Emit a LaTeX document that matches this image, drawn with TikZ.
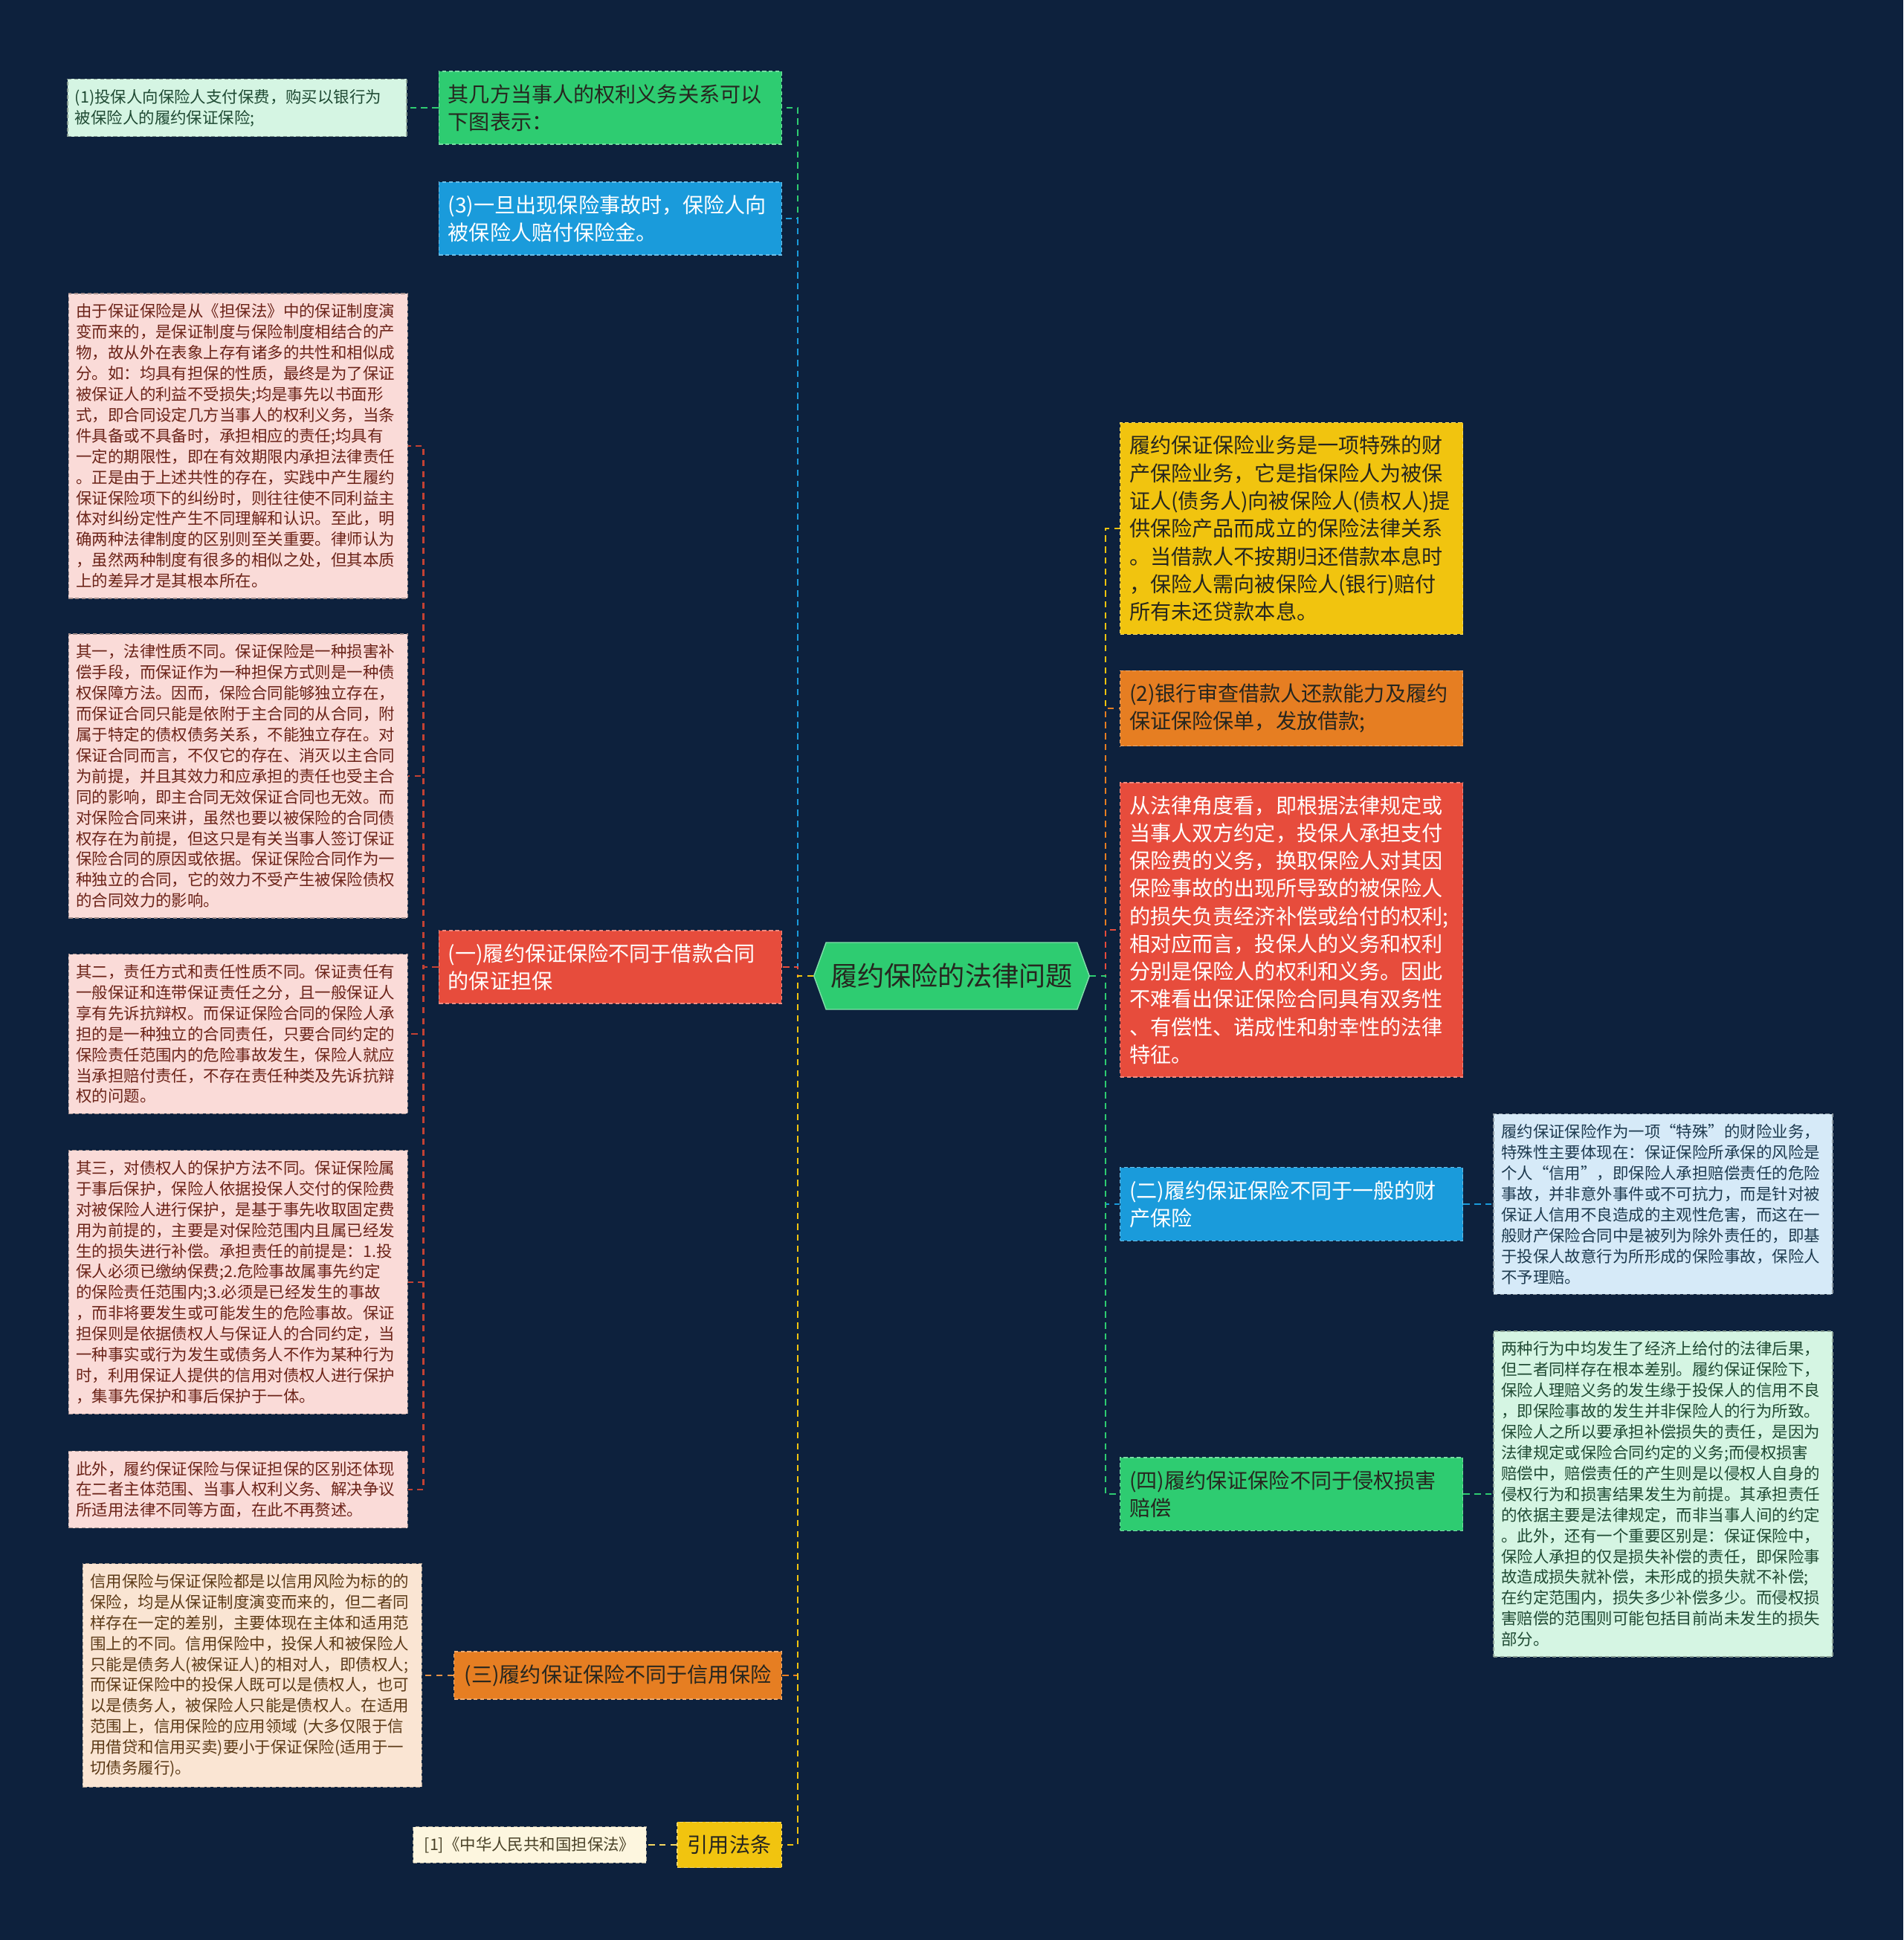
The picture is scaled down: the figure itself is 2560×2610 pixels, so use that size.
\documentclass[tikz,border=0pt]{standalone}
\usepackage{fontspec}
\setmainfont{Noto Sans CJK SC}
\usepackage{tikz}
\usetikzlibrary{positioning,calc,shapes.symbols}

\definecolor{bgnavy}{HTML}{0D213D}
\definecolor{mgreen}{HTML}{2ECC71}
\definecolor{mblue}{HTML}{1A9BDB}
\definecolor{mred}{HTML}{E74C3C}
\definecolor{morange}{HTML}{E67E22}
\definecolor{myellow}{HTML}{F1C40F}
\definecolor{lpink}{HTML}{FADBD8}
\definecolor{lpeach}{HTML}{FAE5D3}
\definecolor{lcream}{HTML}{FDF6DF}
\definecolor{lblue}{HTML}{D6EAF8}
\definecolor{lgreen}{HTML}{D5F5E3}
\definecolor{inkdark}{HTML}{26261F}
\definecolor{inkpink}{HTML}{6B2318}
\definecolor{inkpeach}{HTML}{5C3A17}
\definecolor{inkcream}{HTML}{4A4228}
\definecolor{inkgreen}{HTML}{1F4A33}
\definecolor{inkblue}{HTML}{1D3A4F}

\begin{document}
\begin{tikzpicture}[
  x=0.1mm, y=-0.1mm,
  root/.style={
    signal,
    signal to=west and east,
    signal pointer angle=140,
    fill=mgreen,
    draw=mgreen!60!white,
    line width=0.4pt,
    text=inkdark,
    inner xsep=0.6mm,
    minimum width=37mm,
    minimum height=9mm,
    font=\fontsize{10.3}{12}\selectfont
  },
  topic/.style={
    fill=#1,
    draw=#1!65!white,
    dash pattern=on 1.5pt off 1pt,
    line width=0.4pt,
    align=left,
    inner xsep=1.4mm,
    inner ysep=1.75mm,
    font=\fontsize{8.0}{10.6}\selectfont
  },
  topic/.default=mgreen,
  widetopic/.style={topic=#1, text width=43.6mm, inner xsep=1.25mm},
  note/.style={
    fill=#1,
    draw=#1!65!black,
    dash pattern=on 1.5pt off 1pt,
    line width=0.4pt,
    align=left,
    inner xsep=1.5mm,
    inner ysep=1.35mm,
    font=\fontsize{6.1}{7.95}\selectfont
  },
  widenote/.style={note=#1, text width=43.6mm, inner xsep=1mm},
  link/.style={
    draw=#1,
    dash pattern=on 2.4pt off 1.8pt,
    line width=0.7pt
  }
]
  \useasboundingbox (0,0) rectangle (2560,2610);
  \fill[bgnavy] (0,0) rectangle (2560,2610);

  \node[root] (root) at (1280,1313) {履约保险的法律问题};

  % left column of topics
  \node[widetopic=mgreen, text=inkdark, anchor=east] (parties) at (1052,145)
    {其几方当事人的权利义务关系可以\\下图表示：};
  \node[widetopic=mblue, text=white, anchor=east] (payout) at (1052,294)
    {(3)一旦出现保险事故时，保险人向\\被保险人赔付保险金。};
  \node[widetopic=mred, text=white, anchor=east] (loan) at (1052,1301)
    {(一)履约保证保险不同于借款合同\\的保证担保};
  \node[topic=morange, text=inkdark, anchor=east] (credit) at (1052,2254)
    {(三)履约保证保险不同于信用保险};
  \node[topic=myellow, text=inkdark, anchor=east] (lawref) at (1052,2482)
    {引用法条};

  % right column of topics
  \node[widetopic=myellow, text=inkdark, anchor=west] (bizdef) at (1506,711)
    {履约保证保险业务是一项特殊的财\\产保险业务，它是指保险人为被保\\证人(债务人)向被保险人(债权人)提\\供保险产品而成立的保险法律关系\\。当借款人不按期归还借款本息时\\，保险人需向被保险人(银行)赔付\\所有未还贷款本息。};
  \node[widetopic=morange, text=inkdark, anchor=west] (bankstep) at (1506,953)
    {(2)银行审查借款人还款能力及履约\\保证保险保单，发放借款;};
  \node[widetopic=mred, text=white, anchor=west] (legalview) at (1506,1251)
    {从法律角度看，即根据法律规定或\\当事人双方约定，投保人承担支付\\保险费的义务，换取保险人对其因\\保险事故的出现所导致的被保险人\\的损失负责经济补偿或给付的权利;\\相对应而言，投保人的义务和权利\\分别是保险人的权利和义务。因此\\不难看出保证保险合同具有双务性\\、有偿性、诺成性和射幸性的法律\\特征。};
  \node[widetopic=mblue, text=white, anchor=west] (property) at (1506,1620)
    {(二)履约保证保险不同于一般的财\\产保险};
  \node[widetopic=mgreen, text=inkdark, anchor=west] (tort) at (1506,2010)
    {(四)履约保证保险不同于侵权损害\\赔偿};

  % notes on the far left
  \node[widenote=lgreen, text=inkgreen, left=4.2mm of parties] (partyone)
    {(1)投保人向保险人支付保费，购买以银行为\\被保险人的履约保证保险;};
  \node[widenote=lpink, text=inkpink, anchor=east] (loanwhy) at (549,600)
    {由于保证保险是从《担保法》中的保证制度演\\变而来的，是保证制度与保险制度相结合的产\\物，故从外在表象上存有诸多的共性和相似成\\分。如：均具有担保的性质，最终是为了保证\\被保证人的利益不受损失;均是事先以书面形\\式，即合同设定几方当事人的权利义务，当条\\件具备或不具备时，承担相应的责任;均具有\\一定的期限性，即在有效期限内承担法律责任\\。正是由于上述共性的存在，实践中产生履约\\保证保险项下的纠纷时，则往往使不同利益主\\体对纠纷定性产生不同理解和认识。至此，明\\确两种法律制度的区别则至关重要。律师认为\\，虽然两种制度有很多的相似之处，但其本质\\上的差异才是其根本所在。};
  \node[widenote=lpink, text=inkpink, anchor=east] (loanone) at (549,1044)
    {其一，法律性质不同。保证保险是一种损害补\\偿手段，而保证作为一种担保方式则是一种债\\权保障方法。因而，保险合同能够独立存在，\\而保证合同只能是依附于主合同的从合同，附\\属于特定的债权债务关系，不能独立存在。对\\保证合同而言，不仅它的存在、消灭以主合同\\为前提，并且其效力和应承担的责任也受主合\\同的影响，即主合同无效保证合同也无效。而\\对保险合同来讲，虽然也要以被保险的合同债\\权存在为前提，但这只是有关当事人签订保证\\保险合同的原因或依据。保证保险合同作为一\\种独立的合同，它的效力不受产生被保险债权\\的合同效力的影响。};
  \node[widenote=lpink, text=inkpink, anchor=east] (loantwo) at (549,1391)
    {其二，责任方式和责任性质不同。保证责任有\\一般保证和连带保证责任之分，且一般保证人\\享有先诉抗辩权。而保证保险合同的保险人承\\担的是一种独立的合同责任，只要合同约定的\\保险责任范围内的危险事故发生，保险人就应\\当承担赔付责任，不存在责任种类及先诉抗辩\\权的问题。};
  \node[widenote=lpink, text=inkpink, anchor=east] (loanthree) at (549,1725)
    {其三，对债权人的保护方法不同。保证保险属\\于事后保护，保险人依据投保人交付的保险费\\对被保险人进行保护，是基于事先收取固定费\\用为前提的，主要是对保险范围内且属已经发\\生的损失进行补偿。承担责任的前提是：1.投\\保人必须已缴纳保费;2.危险事故属事先约定\\的保险责任范围内;3.必须是已经发生的事故\\，而非将要发生或可能发生的危险事故。保证\\担保则是依据债权人与保证人的合同约定，当\\一种事实或行为发生或债务人不作为某种行为\\时，利用保证人提供的信用对债权人进行保护\\，集事先保护和事后保护于一体。};
  \node[widenote=lpink, text=inkpink, anchor=east] (loanmore) at (549,2004)
    {此外，履约保证保险与保证担保的区别还体现\\在二者主体范围、当事人权利义务、解决争议\\所适用法律不同等方面，在此不再赘述。};
  \node[widenote=lpeach, text=inkpeach, left=4.2mm of credit] (creditnote)
    {信用保险与保证保险都是以信用风险为标的的\\保险，均是从保证制度演变而来的，但二者同\\样存在一定的差别，主要体现在主体和适用范\\围上的不同。信用保险中，投保人和被保险人\\只能是债务人(被保证人)的相对人，即债权人;\\而保证保险中的投保人既可以是债权人，也可\\以是债务人，被保险人只能是债权人。在适用\\范围上，信用保险的应用领域 (大多仅限于信\\用借贷和信用买卖)要小于保证保险(适用于一\\切债务履行)。};
  \node[note=lcream, text=inkcream, left=4mm of lawref] (lawnote)
    {[1]《中华人民共和国担保法》};

  % notes on the far right
  \node[widenote=lblue, text=inkblue, right=4mm of property] (propnote)
    {履约保证保险作为一项“特殊”的财险业务，\\特殊性主要体现在：保证保险所承保的风险是\\个人“信用”，即保险人承担赔偿责任的危险\\事故，并非意外事件或不可抗力，而是针对被\\保证人信用不良造成的主观性危害，而这在一\\般财产保险合同中是被列为除外责任的，即基\\于投保人故意行为所形成的保险事故，保险人\\不予理赔。};
  \node[widenote=lgreen, text=inkgreen, right=4mm of tort] (tortnote)
    {两种行为中均发生了经济上给付的法律后果，\\但二者同样存在根本差别。履约保证保险下，\\保险人理赔义务的发生缘于投保人的信用不良\\，即保险事故的发生并非保险人的行为所致。\\保险人之所以要承担补偿损失的责任，是因为\\法律规定或保险合同约定的义务;而侵权损害\\赔偿中，赔偿责任的产生则是以侵权人自身的\\侵权行为和损害结果发生为前提。其承担责任\\的依据主要是法律规定，而非当事人间的约定\\。此外，还有一个重要区别是：保证保险中，\\保险人承担的仅是损失补偿的责任，即保险事\\故造成损失就补偿，未形成的损失就不补偿;\\在约定范围内，损失多少补偿多少。而侵权损\\害赔偿的范围则可能包括目前尚未发生的损失\\部分。};

  % bus points beside the root and the loan topic
  \coordinate (lbus) at ([xshift=-2.1mm]root.west);
  \coordinate (rbus) at ([xshift=2.1mm]root.east);
  \coordinate (sbus) at ([xshift=-2mm]loan.west);

  \draw[link=mgreen] (root.west) -- (lbus) |- (parties.east);
  \draw[link=mblue] (root.west) -- (lbus) |- (payout.east);
  \draw[link=mred] (root.west) -- (lbus) |- (loan.east);
  \draw[link=morange] (root.west) -- (lbus) |- (credit.east);
  \draw[link=myellow] (root.west) -- (lbus) |- (lawref.east);

  \draw[link=myellow] (root.east) -- (rbus) |- (bizdef.west);
  \draw[link=morange] (root.east) -- (rbus) |- (bankstep.west);
  \draw[link=mred] (root.east) -- (rbus) |- (legalview.west);
  \draw[link=mblue] (root.east) -- (rbus) |- (property.west);
  \draw[link=mgreen] (root.east) -- (rbus) |- (tort.west);

  \draw[link=mgreen] (parties.west) -- (partyone.east);
  \draw[link=mred!85!black] (loan.west) -- (sbus) |- (loanwhy.east);
  \draw[link=mred!85!black] (loan.west) -- (sbus) |- (loanone.east);
  \draw[link=mred!85!black] (loan.west) -- (sbus) |- (loantwo.east);
  \draw[link=mred!85!black] (loan.west) -- (sbus) |- (loanthree.east);
  \draw[link=mred!85!black] (loan.west) -- (sbus) |- (loanmore.east);
  \draw[link=morange!80!lpeach] (credit.west) -- (creditnote.east);
  \draw[link=myellow!60!lcream] (lawref.west) -- (lawnote.east);
  \draw[link=mblue] (property.east) -- (propnote.west);
  \draw[link=mgreen] (tort.east) -- (tortnote.west);
\end{tikzpicture}
\end{document}
